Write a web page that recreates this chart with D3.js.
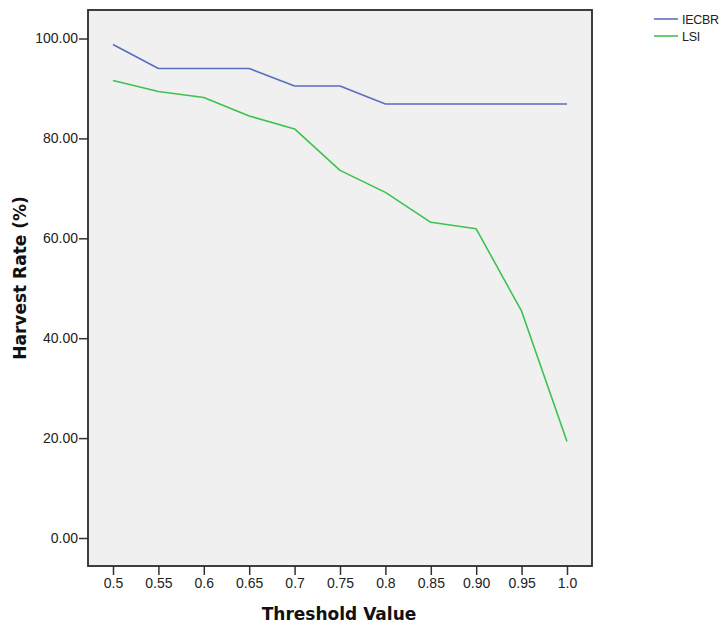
<!DOCTYPE html>
<html>
<head>
<meta charset="utf-8">
<script src="https://cdn.jsdelivr.net/npm/d3@7/dist/d3.min.js"></script>
<style>
  html, body { margin: 0; padding: 0; background: #ffffff; }
  svg { display: block; }
</style>
</head>
<body>
<svg id="chart" width="721" height="628"></svg>
<script>
const thresholds = ["0.5", "0.55", "0.6", "0.65", "0.7", "0.75", "0.8", "0.85", "0.90", "0.95", "1.0"];
const iecbr = [98.8, 94.0, 94.0, 94.0, 90.5, 90.5, 86.9, 86.9, 86.9, 86.9, 86.9];
const lsi   = [91.6, 89.4, 88.2, 84.5, 81.9, 73.6, 69.2, 63.2, 61.9, 45.4, 19.3];
const yTicks = [0, 20, 40, 60, 80, 100];
const seriesNames = ["IECBR", "LSI"];
const seriesColors = ["#5a6ebf", "#3cc24f"];

const svg = d3.select("#chart");
const frame = { left: 88, right: 592, top: 10, bottom: 566 };
const sans = "'Liberation Sans', Arial, sans-serif";
const wide = "'DejaVu Sans', Verdana, sans-serif";

const x = d3.scalePoint().domain(thresholds).range([113, 567]);
const y = d3.scaleLinear().domain([0, 100]).range([538, 38.5]);

// plot background
svg.append("rect")
  .attr("x", frame.left).attr("y", frame.top)
  .attr("width", frame.right - frame.left).attr("height", frame.bottom - frame.top)
  .attr("fill", "#f0f0f0");

// y axis
const yAxis = svg.append("g")
  .attr("transform", `translate(${frame.left},0)`)
  .call(d3.axisLeft(y).tickValues(yTicks).tickFormat(d3.format(".2f")).tickSize(9).tickSizeOuter(0));
yAxis.select(".domain").remove();
yAxis.selectAll(".tick line").attr("stroke", "#333").attr("stroke-width", 1.5);
yAxis.selectAll(".tick text").attr("fill", "#222").attr("x", -10)
  .style("font-family", sans).style("font-size", "14px");

// x axis
const xAxis = svg.append("g")
  .attr("transform", `translate(0,${frame.bottom})`)
  .call(d3.axisBottom(x).tickSize(9).tickSizeOuter(0));
xAxis.select(".domain").remove();
xAxis.selectAll(".tick line").attr("stroke", "#333").attr("stroke-width", 1.5);
xAxis.selectAll(".tick text").attr("fill", "#222").attr("y", 12)
  .style("font-family", sans).style("font-size", "14px");

// frame
svg.append("rect")
  .attr("x", frame.left).attr("y", frame.top)
  .attr("width", frame.right - frame.left).attr("height", frame.bottom - frame.top)
  .attr("fill", "none").attr("stroke", "#2a2a2a").attr("stroke-width", 1.8);

// lines
const line = d3.line().x((d, i) => x(thresholds[i])).y(d => y(d));
[iecbr, lsi].forEach((vals, k) => {
  svg.append("path")
    .datum(vals)
    .attr("d", line)
    .attr("fill", "none")
    .attr("stroke", seriesColors[k])
    .attr("stroke-width", 1.6)
    .attr("stroke-linejoin", "round");
});

// axis titles
svg.append("text")
  .attr("x", (frame.left + frame.right) / 2 - 1).attr("y", 620)
  .attr("text-anchor", "middle")
  .style("font-family", wide).style("font-size", "17px").style("font-weight", "bold")
  .attr("fill", "#111")
  .text("Threshold Value");

svg.append("text")
  .attr("transform", `translate(26,${(frame.top + frame.bottom) / 2 - 10}) rotate(-90)`)
  .attr("text-anchor", "middle")
  .style("font-family", wide).style("font-size", "17px").style("font-weight", "bold")
  .attr("fill", "#111")
  .text("Harvest Rate (%)");

// legend
seriesNames.forEach((name, k) => {
  const ly = 19 + k * 17;
  svg.append("line")
    .attr("x1", 654).attr("x2", 678).attr("y1", ly).attr("y2", ly)
    .attr("stroke", seriesColors[k]).attr("stroke-width", 1.6);
  svg.append("text")
    .attr("x", 682).attr("y", ly + 4.5)
    .style("font-family", sans).style("font-size", "12.5px").style("letter-spacing", "-0.3px")
    .attr("fill", "#222")
    .text(name);
});
</script>
</body>
</html>
